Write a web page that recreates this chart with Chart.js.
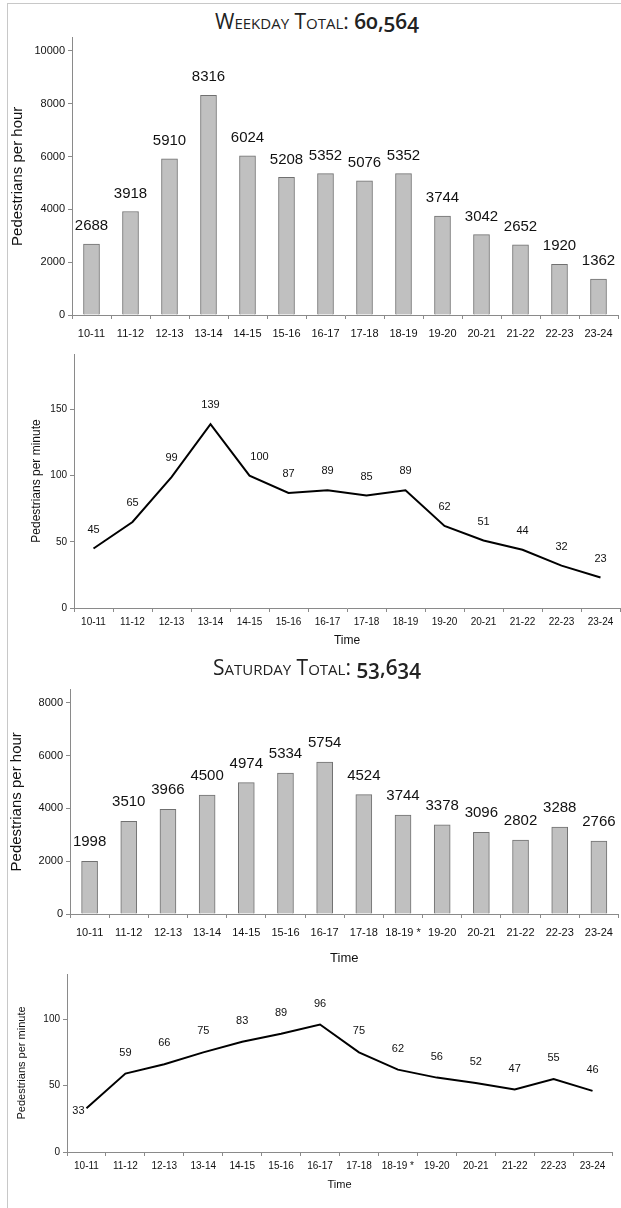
<!DOCTYPE html>
<html>
<head>
<meta charset="utf-8">
<script src="https://cdn.jsdelivr.net/npm/chart.js@4/dist/chart.umd.min.js"></script>
<style>
  body { margin: 0; background: #fff; }
  #page { position: relative; width: 621px; height: 1208px; overflow: hidden; }
  .frame-top { position: absolute; left: 7px; top: 3px; width: 614px; height: 1px; background: #c8c8c8; }
  .frame-left { position: absolute; left: 7px; top: 3px; width: 1px; height: 1205px; background: #c8c8c8; }
  .title {
    position: absolute; left: 0; width: 634px; text-align: center;
    font-family: "Open Sans", sans-serif; font-variant: small-caps;
    font-size: 21px; color: #222; line-height: 24px;
  }
  .title b { font-weight: 600; font-variant: normal; font-variant-numeric: oldstyle-nums; }
  canvas { position: absolute; left: 0; }
</style>
</head>
<body>
<div id="page">
  <div class="frame-top"></div>
  <div class="frame-left"></div>
  <div class="title" style="top:9px">Weekday Total: <b>60,564</b></div>
  <canvas id="wkBar" width="621" height="322" style="top:28px"></canvas>
  <canvas id="wkLine" width="621" height="310" style="top:345px"></canvas>
  <div class="title" style="top:655px">Saturday Total: <b>53,634</b></div>
  <canvas id="satBar" width="621" height="295" style="top:680px"></canvas>
  <canvas id="satLine" width="621" height="243" style="top:965px"></canvas>
</div>
<script>
"use strict";

// data
const weekdayHours = ['10-11', '11-12', '12-13', '13-14', '14-15', '15-16', '16-17', '17-18', '18-19', '19-20', '20-21', '21-22', '22-23', '23-24'];
const saturdayHours = ['10-11', '11-12', '12-13', '13-14', '14-15', '15-16', '16-17', '17-18', '18-19 *', '19-20', '20-21', '21-22', '22-23', '23-24'];
const weekdayPerHour = [2688, 3918, 5910, 8316, 6024, 5208, 5352, 5076, 5352, 3744, 3042, 2652, 1920, 1362];
const weekdayPerMinute = [45, 65, 99, 139, 100, 87, 89, 85, 89, 62, 51, 44, 32, 23];
const saturdayPerHour = [1998, 3510, 3966, 4500, 4974, 5334, 5754, 4524, 3744, 3378, 3096, 2802, 3288, 2766];
const saturdayPerMinute = [33, 59, 66, 75, 83, 89, 96, 75, 62, 56, 52, 47, 55, 46];

// tick labels
const weekdayHourTicks = [0, 2000, 4000, 6000, 8000, 10000];
const saturdayHourTicks = [0, 2000, 4000, 6000, 8000];
const weekdayMinuteTicks = [0, 50, 100, 150];
const saturdayMinuteTicks = [0, 50, 100];

const FONT = "'Liberation Sans', Arial, sans-serif";
const AXIS = '#8a8a8a';

// value labels above each bar / point
const valueLabels = {
  id: 'valueLabels',
  afterDatasetsDraw(chart, args, opts) {
    const ctx = chart.ctx;
    const meta = chart.getDatasetMeta(0);
    const values = chart.data.datasets[0].data;
    ctx.save();
    ctx.font = opts.size + 'px ' + FONT;
    ctx.fillStyle = '#111';
    ctx.textAlign = 'center';
    ctx.textBaseline = 'middle';
    meta.data.forEach((el, i) => {
      const shift = (opts.shift && opts.shift[i]) || [0, -opts.gap];
      ctx.fillText(values[i], el.x + shift[0], el.y + shift[1]);
    });
    ctx.restore();
  }
};

function axisGrid() {
  return {
    display: true,
    drawOnChartArea: false,
    drawTicks: true,
    tickLength: 4,
    color: AXIS,
    tickColor: AXIS,
    offset: true
  };
}

function makeChart(id, type, labels, values, cfg) {
  const isBar = type === 'bar';
  const dataset = isBar
    ? { data: values, backgroundColor: '#c0c0c0', borderColor: '#707070', borderWidth: 1, barThickness: 16 }
    : { data: values, borderColor: '#000', borderWidth: 2, pointRadius: 0, tension: 0, fill: false };

  return new Chart(document.getElementById(id), {
    type: type,
    data: { labels: labels, datasets: [dataset] },
    options: {
      responsive: false,
      animation: false,
      events: [],
      layout: { padding: { top: cfg.padTop, right: cfg.padRight, left: 0, bottom: 0 } },
      plugins: {
        legend: { display: false },
        tooltip: { enabled: false },
        valueLabels: { size: cfg.labelSize, gap: cfg.labelGap, shift: cfg.shift }
      },
      scales: {
        x: {
          offset: true,
          grid: axisGrid(),
          border: { display: true, color: AXIS, width: 1 },
          ticks: {
            autoSkip: false, maxRotation: 0, minRotation: 0,
            padding: cfg.xPad, color: '#111',
            font: { family: FONT, size: cfg.xSize }
          },
          title: cfg.timeSize ? {
            display: true, text: 'Time', color: '#111',
            font: { family: FONT, size: cfg.timeSize },
            padding: { top: 0, bottom: cfg.timePad }
          } : { display: false },
          afterFit: (scale) => { scale.height = cfg.xHeight; }
        },
        y: {
          min: 0,
          max: cfg.yMax,
          grid: Object.assign(axisGrid(), { offset: false }),
          border: { display: true, color: AXIS, width: 1 },
          ticks: {
            padding: 3, color: '#111',
            font: { family: FONT, size: cfg.xSize },
            callback: (v) => v
          },
          title: {
            display: true, text: cfg.yTitle, color: '#111',
            font: { family: FONT, size: cfg.yTitleSize },
            padding: { top: cfg.yTitlePad, bottom: 0 }
          },
          afterBuildTicks: (scale) => {
            scale.ticks = cfg.yTicks.map((v) => ({ value: v }));
          },
          afterFit: (scale) => { scale.width = cfg.yWidth; }
        }
      }
    },
    plugins: [valueLabels]
  });
}

// weekday
makeChart('wkBar', 'bar', weekdayHours, weekdayPerHour, {
  padTop: 4, padRight: 3, yWidth: 72, xHeight: 35, xPad: 8, xSize: 11,
  yMax: 10500, yTicks: weekdayHourTicks, yTitle: 'Pedestrians per hour', yTitleSize: 15, yTitlePad: 9,
  labelSize: 15, labelGap: 18
});

makeChart('wkLine', 'line', weekdayHours, weekdayPerMinute, {
  padTop: 7, padRight: 1, yWidth: 74, xHeight: 47, xPad: 4, xSize: 10,
  timeSize: 12, timePad: 7,
  yMax: 192, yTicks: weekdayMinuteTicks, yTitle: 'Pedestrians per minute', yTitleSize: 12, yTitlePad: 29,
  labelSize: 11, labelGap: 19, shift: { 4: [10, -19] }
});

// saturday
makeChart('satBar', 'bar', saturdayHours, saturdayPerHour, {
  padTop: 7, padRight: 1, yWidth: 70, xHeight: 61, xPad: 8, xSize: 11,
  timeSize: 13, timePad: 9,
  yMax: 8500, yTicks: saturdayHourTicks, yTitle: 'Pedestrians per hour', yTitleSize: 15, yTitlePad: 8,
  labelSize: 15, labelGap: 19
});

makeChart('satLine', 'line', saturdayHours, saturdayPerMinute, {
  padTop: 8, padRight: 9, yWidth: 67, xHeight: 56, xPad: 4, xSize: 10,
  timeSize: 11, timePad: 16,
  yMax: 134, yTicks: saturdayMinuteTicks, yTitle: 'Pedestrians per minute', yTitleSize: 11, yTitlePad: 15,
  labelSize: 11, labelGap: 21, shift: { 0: [-8, 3] }
});
</script>
</body>
</html>
